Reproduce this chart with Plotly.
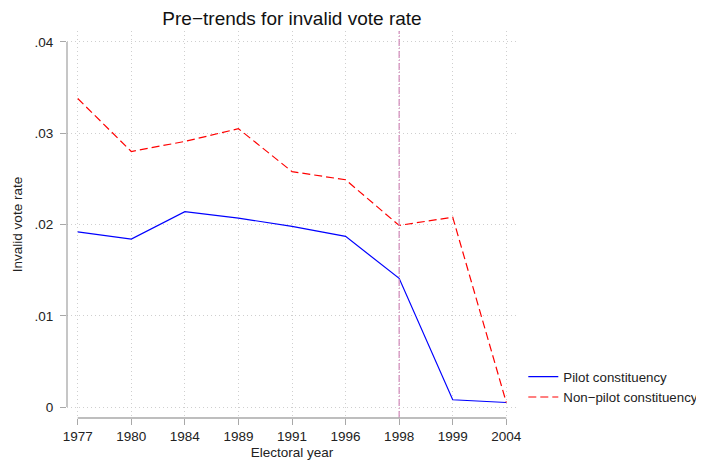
import plotly.graph_objects as go

years = ["1977", "1980", "1984", "1989", "1991", "1996", "1998", "1999", "2004"]
pilot = [0.0192, 0.0184, 0.0214, 0.0207, 0.0198, 0.0187, 0.0141, 0.0008, 0.0005]
nonpilot = [0.0338, 0.0280, 0.0291, 0.0305, 0.0258, 0.0249, 0.0199, 0.0208, 0.0005]
ytick_vals = [0, 0.01, 0.02, 0.03, 0.04]
ytick_text = ["0", ".01", ".02", ".03", ".04"]
treat_index = 6  # 1998

FONT = "Liberation Sans, Arial, sans-serif"

fig = go.Figure()
fig.add_trace(go.Scatter(x=years, y=pilot, mode="lines", name="Pilot constituency",
                         line=dict(color="#0000ff", width=1.2)))
fig.add_trace(go.Scatter(x=years, y=nonpilot, mode="lines", name="Non\u2212pilot constituency",
                         line=dict(color="#ff0000", width=1.2, dash="8px,4px")))

axis_col = "#a8a8a8"
shapes = [
    dict(type="line", xref="x", yref="paper", x0=treat_index, x1=treat_index, y0=0, y1=1,
         line=dict(color="#d088b8", width=1.2, dash="7px,2px,1px,2px"), layer="above"),
    dict(type="line", xref="paper", yref="y", x0=0, x1=0, y0=ytick_vals[0], y1=ytick_vals[-1],
         line=dict(color=axis_col, width=1.3), layer="above"),
    dict(type="line", xref="x", yref="paper", x0=0, x1=len(years) - 1, y0=0, y1=0,
         line=dict(color=axis_col, width=1.3), layer="above"),
]

# page has an 8px body margin; compensate so the figure fills the 704x460 window
W, H = 696, 452
fig.update_layout(
    width=W, height=H,
    margin=dict(l=59, r=187, t=23, b=42, autoexpand=False),
    paper_bgcolor="white", plot_bgcolor="white",
    font=dict(family=FONT, size=13.5, color="#222222"),
    title=dict(text="Pre\u2212trends for invalid vote rate", x=(59 + 225) / W, xanchor="center",
               y=1 - 10 / H, yanchor="middle", font=dict(size=19, color="#111111")),
    legend=dict(x=1.014, y=0.08, xanchor="left", yanchor="middle", itemwidth=30,
                font=dict(size=13.3), bgcolor="rgba(0,0,0,0)", tracegroupgap=0),
    showlegend=True,
    shapes=shapes,
)
fig.update_xaxes(type="category", range=[-0.2, 8.2], showline=False, zeroline=False,
                 automargin=False,
                 showgrid=True, gridcolor="#cfcfcf", griddash="1px,3px", gridwidth=1,
                 ticks="outside", ticklen=6, tickcolor=axis_col, tickwidth=1.3,
                 tickfont=dict(size=13.5),
                 title=dict(text="Electoral year", font=dict(size=13.5), standoff=6))
fig.update_yaxes(range=[-0.0012, 0.0412], tickvals=ytick_vals, ticktext=ytick_text,
                 showline=False, zeroline=False, automargin=False,
                 showgrid=True, gridcolor="#cfcfcf", griddash="1px,3px", gridwidth=1,
                 ticks="outside", ticklen=6, tickcolor=axis_col, tickwidth=1.3,
                 tickfont=dict(size=13.5), ticklabelstandoff=4,
                 title=dict(text="Invalid vote rate", font=dict(size=13.5), standoff=8))

fig.write_html("out.html")
